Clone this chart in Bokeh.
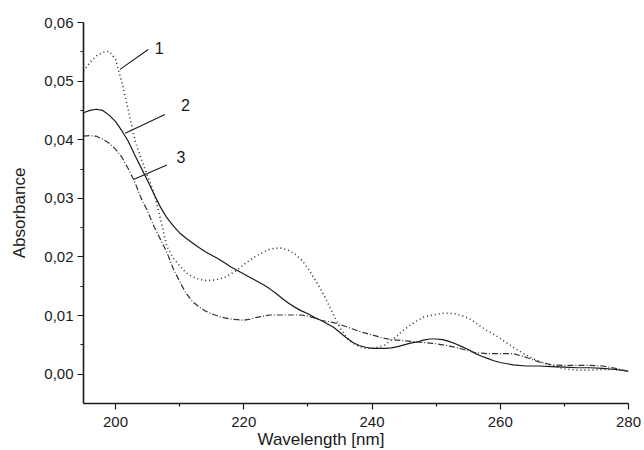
from bokeh.plotting import figure
from bokeh.models import ColumnDataSource, Range1d, FixedTicker, Title
from bokeh.core.properties import value
from bokeh.embed import file_html
from bokeh.resources import INLINE

# ---------------- data ----------------
wavelength = [195, 196, 197, 198, 199, 200, 201, 202, 203, 204, 205, 206, 207, 208, 209,
              210, 211, 212, 213, 214, 215, 216, 217, 218, 219, 220, 221, 222, 223, 224,
              225, 226, 227, 228, 229, 230, 231, 232, 233, 234, 235, 236, 237, 238, 239,
              240, 241, 242, 243, 244, 245, 246, 247, 248, 249, 250, 251, 252, 253, 254,
              255, 256, 257, 258, 259, 260, 262, 264, 266, 268, 270, 272, 274, 276, 278, 280]

absorbance_1 = [0.0517, 0.0532, 0.0543, 0.0549, 0.0551, 0.0537, 0.0497, 0.0450, 0.0400, 0.0367,
                0.0338, 0.0310, 0.0265, 0.0218, 0.0198, 0.0185, 0.0173, 0.0166, 0.0162, 0.0160,
                0.0160, 0.0162, 0.0165, 0.0171, 0.0178, 0.0187, 0.0195, 0.0202, 0.0208, 0.0213,
                0.0215, 0.0215, 0.0211, 0.0205, 0.0195, 0.0181, 0.0163, 0.0145, 0.0124, 0.0101,
                0.0079, 0.0063, 0.0053, 0.0047, 0.0044, 0.0044, 0.0046, 0.0050, 0.0058, 0.0066,
                0.0076, 0.0084, 0.0091, 0.0097, 0.0100, 0.0102, 0.0104, 0.0104, 0.0103, 0.0100,
                0.0096, 0.0089, 0.0081, 0.0074, 0.0068, 0.0061, 0.0046, 0.0033, 0.0022, 0.0015,
                0.0009, 0.0007, 0.0007, 0.0008, 0.0008, 0.0005]

absorbance_2 = [0.0446, 0.0450, 0.0452, 0.0450, 0.0442, 0.0431, 0.0415, 0.0397, 0.0374, 0.0352,
                0.0330, 0.0307, 0.0285, 0.0267, 0.0253, 0.0241, 0.0232, 0.0224, 0.0216, 0.0209,
                0.0203, 0.0197, 0.0190, 0.0183, 0.0177, 0.0171, 0.0165, 0.0159, 0.0153, 0.0146,
                0.0138, 0.0129, 0.0121, 0.0114, 0.0108, 0.0103, 0.0097, 0.0092, 0.0086, 0.0080,
                0.0071, 0.0062, 0.0054, 0.0049, 0.0046, 0.0044, 0.0044, 0.0044, 0.0045, 0.0047,
                0.0050, 0.0053, 0.0055, 0.0058, 0.0060, 0.0060, 0.0059, 0.0056, 0.0052, 0.0047,
                0.0042, 0.0036, 0.0031, 0.0027, 0.0023, 0.0020, 0.0016, 0.0014, 0.0014, 0.0013,
                0.0012, 0.0011, 0.0011, 0.0010, 0.0008, 0.0005]

absorbance_3 = [0.0406, 0.0407, 0.0406, 0.0401, 0.0394, 0.0384, 0.0370, 0.0350, 0.0328, 0.0300,
                0.0278, 0.0252, 0.0230, 0.0208, 0.0180, 0.0158, 0.0138, 0.0124, 0.0115, 0.0108,
                0.0103, 0.0099, 0.0096, 0.0094, 0.0093, 0.0092, 0.0094, 0.0097, 0.0099, 0.0101,
                0.0101, 0.0101, 0.0101, 0.0101, 0.0101, 0.0099, 0.0096, 0.0092, 0.0090, 0.0088,
                0.0085, 0.0081, 0.0077, 0.0073, 0.0070, 0.0067, 0.0064, 0.0061, 0.0059, 0.0058,
                0.0057, 0.0056, 0.0055, 0.0054, 0.0053, 0.0052, 0.0050, 0.0048, 0.0046, 0.0043,
                0.0040, 0.0037, 0.0036, 0.0035, 0.0035, 0.0035, 0.0035, 0.0029, 0.0021, 0.0016,
                0.0015, 0.0015, 0.0015, 0.0014, 0.0010, 0.0005]

x_ticks = [200, 220, 240, 260, 280]
x_minor_ticks = [210, 230, 250, 270]
y_ticks = [0.00, 0.01, 0.02, 0.03, 0.04, 0.05, 0.06]
y_minor_ticks = [0.005, 0.015, 0.025, 0.035, 0.045, 0.055]
y_tick_labels = ["0,00", "0,01", "0,02", "0,03", "0,04", "0,05", "0,06"]

# curve labels with leader lines
label_text = ["1", "2", "3"]
leader_x0 = [200.7, 201.5, 202.8]
leader_y0 = [0.0520, 0.0411, 0.0332]
leader_x1 = [205.1, 207.7, 208.0]
leader_y1 = [0.0554, 0.0443, 0.0357]
label_x = [206.8, 210.9, 210.2]
label_y = [0.0557, 0.0460, 0.0370]

FONT = "Liberation Sans"
TXT = "#1a1a1a"

src = ColumnDataSource(dict(wl=wavelength, a1=absorbance_1, a2=absorbance_2, a3=absorbance_3))
ann = ColumnDataSource(dict(x0=leader_x0, y0=leader_y0, x1=leader_x1, y1=leader_y1,
                            tx=label_x, ty=label_y, t=label_text))

p = figure(width=644, height=450, output_backend="svg", toolbar_location=None,
           x_range=Range1d(195, 280), y_range=Range1d(-0.005, 0.06))
p.min_border_left = 83
p.min_border_right = 16
p.min_border_top = 22
p.min_border_bottom = 47
p.outline_line_color = None
p.xgrid.visible = False
p.ygrid.visible = False
p.background_fill_color = "white"
p.border_fill_color = "white"

p.line("wl", "a1", source=src, line_color="#333333", line_width=1.6, line_dash="1 3")
p.line("wl", "a2", source=src, line_color="#1a1a1a", line_width=1.2)
p.line("wl", "a3", source=src, line_color="#333333", line_width=1.2, line_dash="6 2 1 2")

p.segment("x0", "y0", "x1", "y1", source=ann, line_color="#1a1a1a", line_width=1.1)
p.text("tx", "ty", text="t", source=ann, text_font=value(FONT), text_font_size=value("16px"),
       text_align="center", text_baseline="middle", text_color=TXT)

for ax in (p.xaxis[0], p.yaxis[0]):
    ax.axis_line_color = "#1a1a1a"
    ax.axis_line_width = 1.6
    ax.major_tick_line_color = "#1a1a1a"
    ax.minor_tick_line_color = "#1a1a1a"
    ax.major_tick_line_width = 1.2
    ax.minor_tick_line_width = 1.2
    ax.major_tick_in = 0
    ax.major_tick_out = 6
    ax.minor_tick_in = 0
    ax.minor_tick_out = 3
    ax.major_label_text_font = FONT
    ax.major_label_text_font_size = "15px"
    ax.major_label_text_color = TXT
    ax.axis_label_text_font = FONT
    ax.axis_label_text_font_size = "17px"
    ax.axis_label_text_font_style = "normal"
    ax.axis_label_text_color = TXT

p.xaxis.ticker = FixedTicker(ticks=x_ticks, minor_ticks=x_minor_ticks)
p.yaxis.ticker = FixedTicker(ticks=y_ticks, minor_ticks=y_minor_ticks)
p.yaxis.major_label_overrides = {t: s for t, s in zip(y_ticks, y_tick_labels)}
p.xaxis.major_label_standoff = 7
p.yaxis.major_label_standoff = 4
p.yaxis.axis_label = "Absorbance"
p.yaxis.axis_label_standoff = 12

p.add_layout(Title(text="Wavelength [nm]", align="left", offset=174, standoff=-3,
                   text_font=FONT, text_font_size="17px", text_font_style="normal",
                   text_color=TXT), "below")

open("out.html", "w").write(file_html(p, INLINE))
